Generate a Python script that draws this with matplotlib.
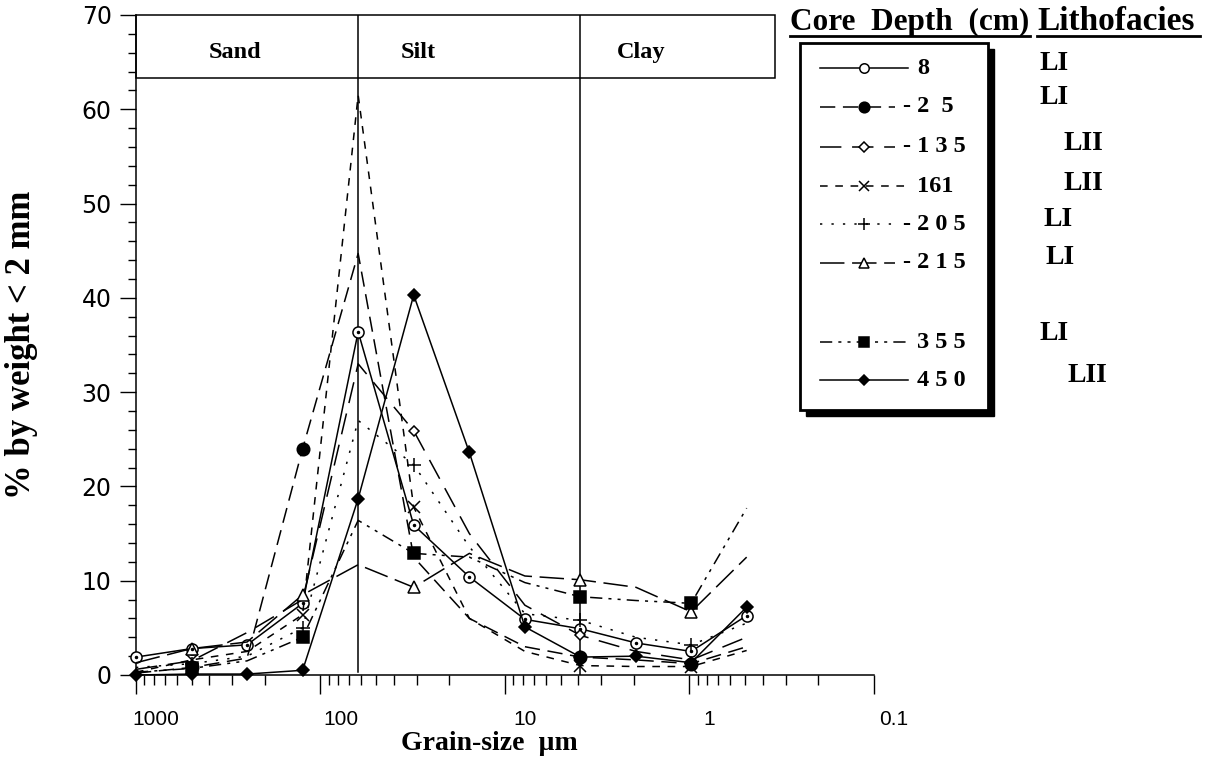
import numpy as np
import matplotlib
matplotlib.use("Agg")
import matplotlib.pyplot as plt
from matplotlib.patches import Rectangle
from matplotlib.lines import Line2D
import matplotlib.transforms as mtransforms

# ---------------- data ----------------
grain_size = [1000, 500, 250, 125, 62.5, 31.25, 15.6, 7.8, 3.9, 1.95, 0.98, 0.49]

depth_labels = ["8", "- 2  5", "- 1 3 5", "161", "- 2 0 5", "- 2 1 5", "3 5 5", "4 5 0"]
lithofacies = ["LI", "LI", "LII", "LII", "LI", "LI", "LI", "LII"]

core_8 = [1.9, 2.8, 3.2, 7.6, 36.4, 15.9, 10.4, 5.9, 4.9, 3.4, 2.5, 6.3]
core_25 = [0.2, 0.8, 1.8, 24.0, 44.7, 12.5, 6.0, 3.0, 1.9, 1.6, 1.2, 3.0]
core_135 = [0.6, 1.5, 4.5, 8.0, 33.0, 25.9, 15.0, 7.4, 4.2, 2.5, 1.6, 4.0]
core_161 = [0.3, 1.6, 2.5, 6.4, 61.5, 17.8, 6.0, 2.5, 1.0, 0.9, 0.9, 2.6]
core_205 = [0.8, 1.2, 2.0, 5.0, 27.0, 22.3, 13.6, 6.5, 5.8, 4.0, 3.2, 5.5]
core_215 = [1.3, 2.8, 3.5, 8.5, 11.7, 9.3, 12.9, 10.5, 10.1, 9.3, 6.7, 12.5]
core_355 = [0.3, 0.7, 1.5, 4.0, 16.4, 12.9, 12.5, 9.8, 8.3, 7.9, 7.6, 17.7]
core_450 = [0.0, 0.1, 0.1, 0.5, 18.7, 40.3, 23.6, 5.1, 1.9, 2.0, 1.3, 7.2]

class_labels = ["Sand", "Silt", "Clay"]
class_bounds = [62.5, 3.9]

y_ticks = [0, 10, 20, 30, 40, 50, 60, 70]
x_ticks = [1000, 100, 10, 1, 0.1]
x_tick_labels = ["1000", "100", "10", "1", "0.1"]

series = [core_8, core_25, core_135, core_161, core_205, core_215, core_355, core_450]

# ---------------- styles ----------------
allpts = list(range(len(grain_size)))
odd = [1, 3, 5, 8, 10]
styles = [
    dict(ls="-", marker="o", mfc="white", ms=8, markevery=allpts),
    dict(ls=(0, (10, 5)), marker="o", mfc="black", ms=9, markevery=[1, 3, 8, 10]),
    dict(ls=(0, (14, 7)), marker="D", mfc="white", ms=5.5, markevery=[5, 8]),
    dict(ls=(0, (5, 5)), marker="x", mfc="black", ms=8, markevery=odd),
    dict(ls=(0, (1.5, 6)), marker="+", mfc="black", ms=10, markevery=odd),
    dict(ls=(0, (16, 5)), marker="^", mfc="white", ms=8, markevery=odd),
    dict(ls=(0, (8, 4, 2, 4, 2, 4)), marker="s", mfc="black", ms=8, markevery=odd),
    dict(ls="-", marker="D", mfc="black", ms=6, markevery=allpts),
]

W, H = 1217, 759
fig = plt.figure(figsize=(W / 100, H / 100), dpi=100)

ax_l, ax_r, ax_b, ax_t = 136, 874, 675, 15
ax = fig.add_axes([ax_l / W, 1 - ax_b / H, (ax_r - ax_l) / W, (ax_b - ax_t) / H])

ax.set_xscale("log")
ax.set_xlim(1000, 0.1)
ax.set_ylim(0, 70)

for vals, st in zip(series, styles):
    ax.plot(grain_size, vals, color="black", lw=1.1, linestyle=st["ls"],
            marker=st["marker"], markersize=st["ms"], markerfacecolor=st["mfc"],
            markeredgecolor="black", markeredgewidth=1.1,
            markevery=st["markevery"], clip_on=False, zorder=3)
    if st["marker"] == "o" and st["mfc"] == "white":
        ax.plot(grain_size, vals, linestyle="none", marker="o", ms=1.5, color="black",
                clip_on=False, zorder=4)

# class boundaries and header box
ax.plot([class_bounds[0]] * 2, [0.3, 70], color="black", lw=1.1, zorder=2)
ax.plot([class_bounds[1]] * 2, [0, 70], color="black", lw=1.1, zorder=2)
blend = mtransforms.blended_transform_factory(ax.transAxes, ax.transData)
box_right = (775 - ax_l) / (ax_r - ax_l)
header_bottom = 63.3
ax.add_patch(Rectangle((0, header_bottom), box_right, 70 - header_bottom, transform=blend,
                       fill=False, lw=1.1, ec="black", clip_on=False))
header_x = [(235 - ax_l) / (ax_r - ax_l), (418 - ax_l) / (ax_r - ax_l), (641 - ax_l) / (ax_r - ax_l)]
for lab, hx in zip(class_labels, header_x):
    ax.text(hx, 66.0, lab, transform=blend, ha="center", va="center",
            fontsize=17.5, fontweight="bold", family="Liberation Serif")

# spines
for s in ["top", "right"]:
    ax.spines[s].set_visible(False)
ax.spines["left"].set_linewidth(1.1)
ax.spines["bottom"].set_linewidth(1.1)

# ticks
ax.set_yticks(y_ticks)
ax.set_yticks(np.arange(0, 71, 2), minor=True)
ax.set_xticks(x_ticks)
ax.set_xticklabels(x_tick_labels)
ax.xaxis.set_minor_locator(matplotlib.ticker.LogLocator(base=10, subs=np.arange(2, 10)))
ax.xaxis.set_minor_formatter(matplotlib.ticker.NullFormatter())
ax.tick_params(axis="y", which="major", direction="out", length=11.5, width=1.0,
               labelsize=17, pad=6)
ax.tick_params(axis="y", which="minor", direction="out", length=5.5, width=1.0)
ax.tick_params(axis="x", which="major", direction="out", length=14, width=1.0,
               labelsize=15, pad=11)
ax.tick_params(axis="x", which="minor", direction="out", length=7.5, width=1.0)
for t in ax.get_yticklabels():
    t.set_family("DejaVu Sans")
offset = mtransforms.ScaledTranslation(20 / 100, 0, fig.dpi_scale_trans)
for t in ax.get_xticklabels():
    t.set_family("Liberation Sans")
    t.set_transform(t.get_transform() + offset)

# axis labels (pixel placement via figure overlay)
ov = fig.add_axes([0, 0, 1, 1], facecolor="none")
ov.set_xlim(0, W)
ov.set_ylim(H, 0)
ov.axis("off")

ov.text(22, 345, "% by weight < 2 mm", rotation=90, ha="center", va="center",
        fontsize=25, fontweight="bold", family="Liberation Serif")
ov.text(489, 744, "Grain-size  \u00b5m", ha="center", va="center",
        fontsize=20, fontweight="bold", family="Liberation Serif")

# legend header
ov.text(790, 22, "Core  Depth  (cm)", ha="left", va="center", fontsize=22.5,
        fontweight="bold", family="Liberation Serif")
ov.plot([790, 1030], [36, 36], color="black", lw=2)
ov.text(1037, 22, "Lithofacies", ha="left", va="center", fontsize=24,
        fontweight="bold", family="Liberation Serif")
ov.plot([1037, 1200], [36, 36], color="black", lw=2)

# legend box with shadow
ov.add_patch(Rectangle((806, 49), 188, 367, fc="black", ec="black", zorder=1))
ov.add_patch(Rectangle((800, 43), 188, 367, fc="white", ec="black", lw=2, zorder=2))

row_y = [68, 107, 147, 186, 224, 263, 342, 380]
lith_pos = [(1040, 63), (1040, 97), (1063, 143), (1063, 183), (1043, 220), (1046, 258),
            (1040, 333), (1067, 375)]
for i, (lab, st) in enumerate(zip(depth_labels, styles)):
    y = row_y[i]
    prefixed = lab.startswith("-")
    x_end = 895 if prefixed else 908
    ov.add_line(Line2D([820, x_end], [y, y], color="black", lw=1.1, linestyle=st["ls"], zorder=3))
    ov.plot([864], [y], marker=st["marker"], ms=st["ms"] * 0.85, mfc=st["mfc"], mec="black",
            mew=1.1, color="black", zorder=4)
    ov.text(903 if prefixed else 917, y, lab, ha="left", va="center", fontsize=17.5,
            fontweight="bold", family="Liberation Serif", zorder=4)
for lab, (lx, ly) in zip(lithofacies, lith_pos):
    ov.text(lx, ly, lab, ha="left", va="center", fontsize=20, fontweight="bold",
            family="Liberation Serif")

fig.savefig("out.png", dpi=100)
